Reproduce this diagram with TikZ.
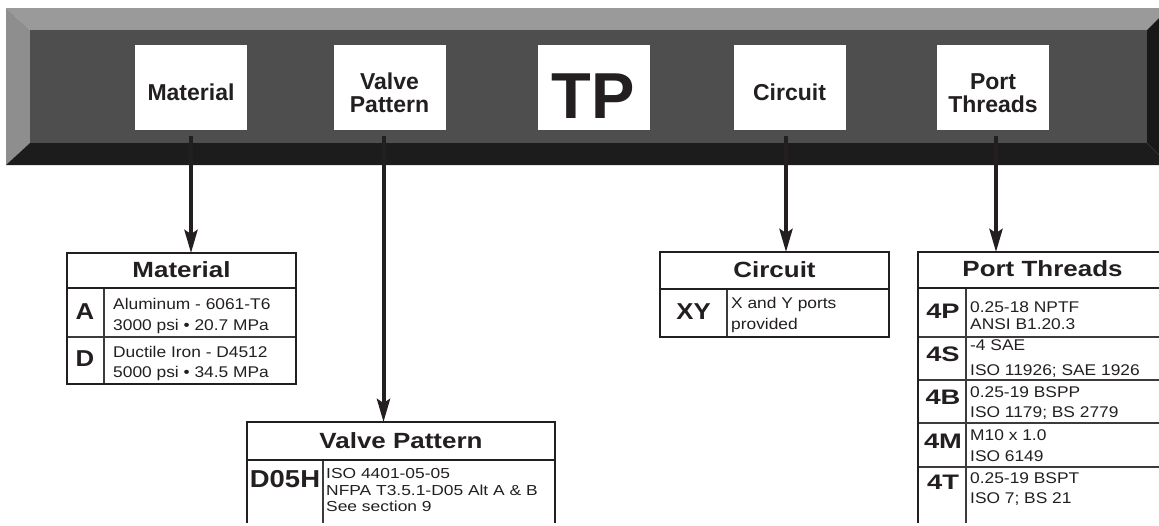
\documentclass[tikz,border=0pt]{standalone}
\usepackage{fontspec}
\setmainfont{Liberation Sans}
\newfontfamily\barf{Liberation Sans Bold}
\newfontfamily\hdrf[FakeStretch=1.18]{Liberation Sans Bold}
\newfontfamily\codef[FakeStretch=1.12]{Liberation Sans Bold}
\newfontfamily\portcodef[FakeStretch=1.3]{Liberation Sans Bold}
\newfontfamily\smallf[FakeStretch=1.12]{Liberation Sans}
\newfontfamily\valf[FakeStretch=1.2]{Liberation Sans}
\usetikzlibrary{arrows.meta}
\definecolor{ink}{RGB}{35,31,32}
\definecolor{rowink}{RGB}{60,58,58}
\definecolor{bevtop}{RGB}{154,154,154}
\definecolor{bevleft}{RGB}{142,142,142}
\definecolor{face}{RGB}{78,78,78}
\definecolor{bevbot}{RGB}{28,28,28}
\definecolor{bevright}{RGB}{24,24,24}
\tikzset{
  barbox/.style={fill=white, draw=none, minimum width=112pt, minimum height=85pt, inner sep=0pt},
  bartext/.style={inner sep=0pt, font=\barf\fontsize{23}{23}\selectfont, align=center, text=ink},
  tptext/.style={inner sep=0pt, font=\barf\fontsize{65}{65}\selectfont, text=ink},
  stem/.style={draw=ink, line width=4pt, -{Stealth[length=23pt,width=13pt,inset=4pt]}},
  tabline/.style={draw=ink, line width=2pt},
  rowline/.style={draw=rowink, line width=1.4pt},
  hdr/.style={inner sep=0pt, anchor=base, font=\hdrf\fontsize{22}{22}\selectfont, text=ink},
  code/.style={inner sep=0pt, anchor=center, font=\codef\fontsize{23}{23}\selectfont, text=ink},
  pcode/.style={inner sep=0pt, anchor=center, font=\portcodef\fontsize{21}{21}\selectfont, text=ink},
  desc/.style={inner sep=0pt, anchor=base west, font=\smallf\fontsize{15.5}{18}\selectfont, text=ink},
  vdesc/.style={inner sep=0pt, anchor=north west, align=left, font=\valf\fontsize{14.5}{16.5}\selectfont, text=ink}
}
\begin{document}
\begin{tikzpicture}[x=1pt,y=-1pt]
\useasboundingbox (0,0) rectangle (1159,525);
\clip (0,0) rectangle (1159,525);
% ---- 3D bar ----
\fill[bevtop] (6,8) -- (1169,8) -- (1147,30) -- (30,30) -- cycle;
\fill[bevleft] (6,8) -- (30,30) -- (30,143) -- (6,165) -- cycle;
\fill[bevbot] (6,165) -- (30,143) -- (1147,143) -- (1169,165) -- cycle;
\fill[bevright] (1169,8) -- (1147,30) -- (1147,143) -- (1169,165) -- cycle;
\fill[face] (30,30) rectangle (1147,143);
% ---- bar boxes ----
\node[barbox] (bMat) at (191,87.5) {};
\node[barbox] (bVal) at (389.5,87.5) {};
\node[barbox] (bTP) at (593.5,87.5) {};
\node[barbox] (bCir) at (789.5,87.5) {};
\node[barbox] (bPort) at (993,87.5) {};
\node[bartext, anchor=base] (tMat) at (191,100) {Material};
\node[bartext] (tVal) at (389.5,92.5) {Valve\\Pattern};
\node[tptext, anchor=base] (tTP) at (593.5,118) {TP};
\node[bartext, anchor=base] (tCir) at (789.5,100) {Circuit};
\node[bartext] (tPort) at (993,93) {Port\\Threads};
% ---- stems ----
\coordinate (s1) at (191,136);
\coordinate (s2) at (383.5,136);
\coordinate (s3) at (786,136);
\coordinate (s4) at (996,136);
\coordinate (matT) at (181.5,253);
\coordinate (valT) at (401,422);
\coordinate (cirT) at (774.5,252);
\coordinate (porT) at (1042.5,252);
\draw[stem] (s1) -- (s1 |- matT);
\draw[stem] (s2) -- (s2 |- valT);
\draw[stem] (s3) -- (s3 |- cirT);
\draw[stem] (s4) -- (s4 |- porT);
% ---- Material table ----
\draw[rowline] (67,337) -- (296,337);
\draw[rowline] (104,288) -- (104,384);
\draw[tabline] (67,288) -- (296,288);
\draw[tabline] (67,253) rectangle (296,384);
\node[hdr] (hMat) at (181.5,277.5) {Material};
\node[code] (cA) at (85,311.5) {A};
\node[code] (cD) at (85,358.5) {D};
\node[desc] at (113,309) {Aluminum - 6061-T6};
\node[desc] at (113,330) {3000 psi • 20.7 MPa};
\node[desc] at (113,357) {Ductile Iron - D4512};
\node[desc] at (113,377) {5000 psi • 34.5 MPa};
% ---- Valve Pattern table ----
\draw[rowline] (323,460) -- (323,523);
\draw[tabline] (247,460) -- (555,460);
\draw[tabline] (247,523) -- (247,422) -- (555,422) -- (555,523);
\node[hdr] (hVal) at (401,448) {Valve Pattern};
\node[code, font=\codef\fontsize{24.5}{24.5}\selectfont] (cD05H) at (285,479) {D05H};
\node[vdesc] (dD05H) at (326,468.4) {ISO 4401-05-05\\NFPA T3.5.1-D05 Alt A \& B\\See section 9};
% ---- Circuit table ----
\draw[rowline] (727,289) -- (727,337);
\draw[tabline] (660,289) -- (889,289);
\draw[tabline] (660,252) rectangle (889,337);
\node[hdr] (hCir) at (774.5,277) {Circuit};
\node[code] (cXY) at (693.5,311.5) {XY};
\node[desc] at (731,308) {X and Y ports};
\node[desc] at (731,329) {provided};
% ---- Port Threads table ----
\draw[rowline] (918,337) -- (1170,337);
\draw[rowline] (918,380) -- (1170,380);
\draw[rowline] (918,423) -- (1170,423);
\draw[rowline] (918,467) -- (1170,467);
\draw[rowline] (966,288) -- (966,523);
\draw[tabline] (918,288) -- (1170,288);
\draw[tabline] (918,523) -- (918,252) -- (1170,252);
\node[hdr] (hPort) at (1042.5,276) {Port Threads};
\node[pcode] (c4P) at (943,311) {4P};
\node[pcode] (c4S) at (943,354) {4S};
\node[pcode] (c4B) at (943,397.5) {4B};
\node[pcode] (c4M) at (943,441) {4M};
\node[pcode] (c4T) at (943,482.5) {4T};
\node[desc] at (970,312) {0.25-18 NPTF};
\node[desc] at (970,329) {ANSI B1.20.3};
\node[desc] at (970,350) {-4 SAE};
\node[desc] at (970,375) {ISO 11926; SAE 1926};
\node[desc] at (970,397) {0.25-19 BSPP};
\node[desc] at (970,417) {ISO 1179; BS 2779};
\node[desc] at (970,440) {M10 x 1.0};
\node[desc] at (970,461) {ISO 6149};
\node[desc] at (970,483) {0.25-19 BSPT};
\node[desc] at (970,503) {ISO 7; BS 21};
\end{tikzpicture}
\end{document}
